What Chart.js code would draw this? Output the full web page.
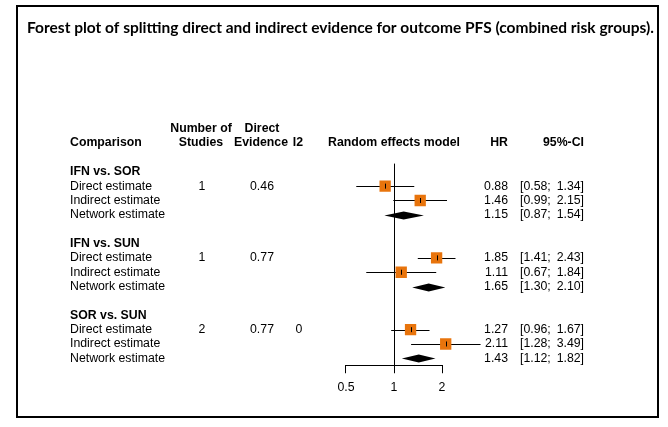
<!DOCTYPE html>
<html>
<head>
<meta charset="utf-8">
<script src="https://cdn.jsdelivr.net/npm/chart.js@4/dist/chart.umd.min.js"></script>
<style>
  html, body { margin: 0; padding: 0; background: #fff; }
  canvas { display: block; }
</style>
</head>
<body>
<canvas id="forest" width="668" height="427"></canvas>
<script>
// data
const comparisons = ['IFN vs. SOR', 'IFN vs. SUN', 'SOR vs. SUN'];
const estimateTypes = ['Direct estimate', 'Indirect estimate', 'Network estimate'];
const nStudies = ['1', '1', '2'];
const directEvidence = ['0.46', '0.77', '0.77'];
const i2 = ['', '', '0'];

// one entry per estimate row, in order direct / indirect / network for each comparison
const hr = [0.88, 1.46, 1.15, 1.85, 1.11, 1.65, 1.27, 2.11, 1.43];
const ciLower = [0.58, 0.99, 0.87, 1.41, 0.67, 1.30, 0.96, 1.28, 1.12];
const ciUpper = [1.34, 2.15, 1.54, 2.43, 1.84, 2.10, 1.67, 3.49, 1.82];

const xTicks = [0.5, 1, 2];

const ORANGE = '#e8740c';
const FONT = '"Liberation Sans", Arial, sans-serif';
const TXT_SIZE = 12.3;

// row number on the y scale (0 = first comparison heading)
const rowOf = i => Math.floor(i / 3) * 5 + (i % 3) + 1;

// x scale: 1 sits at 394px, one doubling = 48px
const PAD_L = 27, PAD_R = 14, W = 668;
const xMin = Math.pow(2, (PAD_L - 394) / 48);
const xMax = Math.pow(2, (W - PAD_R - 394) / 48);

const squarePts = [], networkPts = [];
hr.forEach((v, i) => {
  const p = { x: v, y: rowOf(i) };
  if (i % 3 === 2) networkPts.push(p); else squarePts.push(p);
});

const forestPlugin = {
  id: 'forest',
  beforeDraw(chart) {
    const ctx = chart.ctx;
    ctx.save();
    ctx.fillStyle = '#fff';
    ctx.fillRect(0, 0, chart.width, chart.height);
    ctx.strokeStyle = '#000';
    ctx.lineWidth = 2;
    ctx.strokeRect(17, 6, 641, 411);
    ctx.restore();
  },
  beforeDatasetsDraw(chart) {
    const { ctx, chartArea, scales: { x, y } } = chart;
    const line = (x0, y0, x1, y1) => {
      ctx.beginPath(); ctx.moveTo(x0, y0); ctx.lineTo(x1, y1); ctx.stroke();
    };
    ctx.save();
    ctx.strokeStyle = '#000';
    ctx.lineWidth = 1;

    // line of no effect
    const x1 = Math.round(x.getPixelForValue(1)) + 0.5;
    line(x1, chartArea.top, x1, chartArea.bottom);
    // axis line between first and last tick
    const yb = Math.round(chartArea.bottom) + 0.5;
    line(Math.round(x.getPixelForValue(xTicks[0])), yb,
         Math.round(x.getPixelForValue(xTicks[xTicks.length - 1])) + 1, yb);

    hr.forEach((v, i) => {
      const py = Math.round(y.getPixelForValue(rowOf(i))) + 0.5;
      const lo = x.getPixelForValue(ciLower[i]);
      const hi = x.getPixelForValue(ciUpper[i]);
      if (i % 3 === 2) {
        // diamond for the network estimate
        const mid = x.getPixelForValue(v);
        ctx.fillStyle = '#000';
        ctx.beginPath();
        ctx.moveTo(lo, py);
        ctx.lineTo(mid, py - 4);
        ctx.lineTo(hi, py);
        ctx.lineTo(mid, py + 4);
        ctx.closePath();
        ctx.fill();
      } else {
        line(lo, py, hi, py);
      }
    });
    ctx.restore();
  },
  afterDatasetsDraw(chart) {
    const { ctx, scales: { x, y } } = chart;
    ctx.save();
    ctx.strokeStyle = '#000';
    ctx.lineWidth = 1;
    hr.forEach((v, i) => {
      if (i % 3 === 2) return;
      const px = Math.round(x.getPixelForValue(v)) + 0.5;
      const py = y.getPixelForValue(rowOf(i));
      ctx.beginPath(); ctx.moveTo(px, py - 2.5); ctx.lineTo(px, py + 2.5); ctx.stroke();
    });
    ctx.restore();
  },
  afterDraw(chart) {
    const { ctx, scales: { y } } = chart;
    const txt = (s, px, row, align, bold) => {
      ctx.font = (bold ? 'bold ' : '') + TXT_SIZE + 'px ' + FONT;
      ctx.textAlign = align;
      ctx.fillText(s, px, y.getPixelForValue(row));
    };
    ctx.save();
    ctx.fillStyle = '#000';
    ctx.textBaseline = 'middle';

    // column headers
    txt('Comparison', 70, -2, 'left', true);
    txt('Number of', 201, -3, 'center', true);
    txt('Studies', 201, -2, 'center', true);
    txt('Direct', 262, -3, 'center', true);
    txt('Evidence', 261, -2, 'center', true);
    txt('I2', 298, -2, 'center', true);
    txt('Random effects model', 394, -2, 'center', true);
    txt('HR', 508, -2, 'right', true);
    txt('95%-CI', 584, -2, 'right', true);

    comparisons.forEach((c, k) => {
      const r0 = k * 5;
      txt(c, 70, r0, 'left', true);
      txt(nStudies[k], 202, r0 + 1, 'center', false);
      txt(directEvidence[k], 262, r0 + 1, 'center', false);
      txt(i2[k], 299, r0 + 1, 'center', false);
    });
    hr.forEach((v, i) => {
      const r = rowOf(i);
      txt(estimateTypes[i % 3], 70, r, 'left', false);
      txt(v.toFixed(2), 508, r, 'right', false);
      txt('[' + ciLower[i].toFixed(2) + ';', 520, r, 'left', false);
      txt(ciUpper[i].toFixed(2) + ']', 584, r, 'right', false);
    });
    ctx.restore();
  }
};

new Chart(document.getElementById('forest'), {
  type: 'scatter',
  data: {
    datasets: [
      {
        label: 'Direct / indirect',
        data: squarePts,
        pointStyle: 'rect',
        pointRadius: 8,
        pointBorderWidth: 0,
        backgroundColor: ORANGE,
        borderColor: ORANGE
      },
      {
        label: 'Network',
        data: networkPts,
        pointRadius: 0
      }
    ]
  },
  plugins: [forestPlugin],
  options: {
    responsive: false,
    animation: false,
    devicePixelRatio: 1,
    layout: { padding: { left: PAD_L, right: PAD_R, top: 8, bottom: 25 } },
    plugins: {
      legend: { display: false },
      tooltip: { enabled: false },
      title: {
        display: true,
        text: 'Forest plot of splitting direct and indirect evidence for outcome PFS (combined risk groups).',
        align: 'start',
        color: '#000',
        font: { family: 'Lato, sans-serif', size: 15.5, weight: 'bold', lineHeight: 1.2 },
        padding: { top: 11, bottom: 126 }
      }
    },
    scales: {
      x: {
        type: 'logarithmic',
        min: xMin,
        max: xMax,
        afterBuildTicks: s => { s.ticks = xTicks.map(v => ({ value: v })); },
        border: { display: false },
        grid: { drawOnChartArea: false, drawTicks: true, tickLength: 8, color: '#000', lineWidth: 1 },
        ticks: {
          color: '#000',
          padding: 7,
          maxRotation: 0,
          autoSkip: false,
          font: { family: FONT, size: TXT_SIZE },
          callback: v => String(v)
        }
      },
      y: {
        type: 'linear',
        reverse: true,
        min: -0.57,
        max: 13.48,
        display: false
      }
    }
  }
});
</script>
</body>
</html>
